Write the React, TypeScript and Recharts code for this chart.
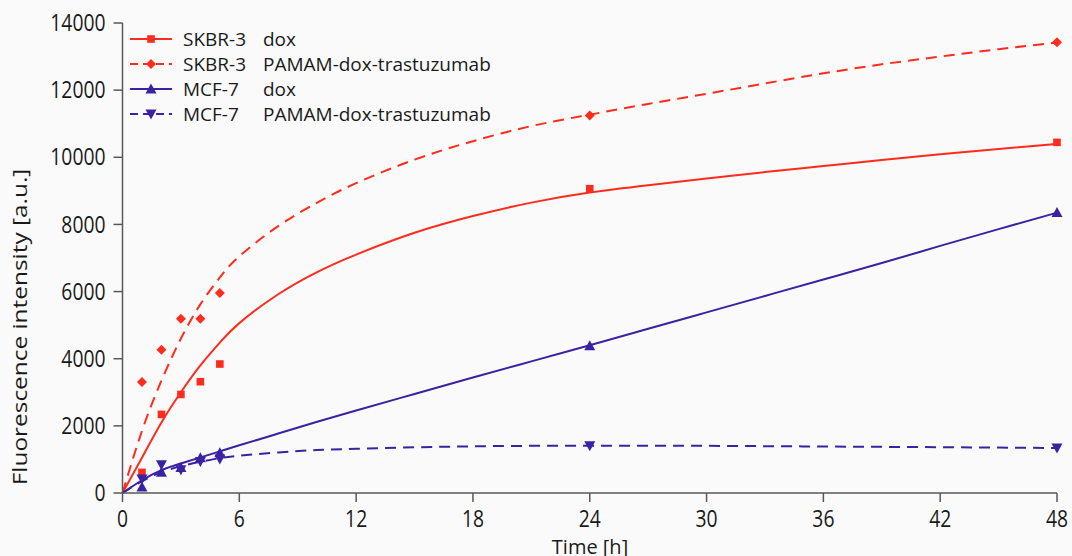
import { ComposedChart, Line, Scatter, XAxis, YAxis } from "recharts";

const RED = "#ff2b1c";
const BLUE = "#3b22a3";

// measured points
const hours = [1, 2, 3, 4, 5, 24, 48];
const skbrDox = [614, 2341, 2937, 3315, 3842, 9065, 10444];
const skbrPamam = [3306, 4269, 5192, 5192, 5958, 11248, 13423];
const mcfDox = [180, 620, 760, 1050, 1200, 4388, 8359];
const mcfPamam = [417, 843, 694, 941, 1013, 1409, 1340];

// fitted curves
const fitHours = [0, 1, 2, 3, 4, 5, 6, 8, 10, 12, 15, 18, 21, 24, 27, 30, 33, 36, 39, 42, 45, 48];
const skbrDoxFit = [0, 1050, 2100, 3000, 3800, 4480, 5060, 5920, 6580, 7100, 7750, 8250, 8650, 8950, 9170, 9370, 9560, 9740, 9920, 10090, 10250, 10400];
const skbrPamamFit = [0, 1850, 3350, 4600, 5620, 6420, 7050, 7950, 8650, 9230, 9930, 10480, 10930, 11270, 11590, 11890, 12200, 12500, 12770, 13000, 13220, 13420];
const mcfDoxFit = [0, 380, 680, 880, 1060, 1240, 1420, 1770, 2120, 2460, 2950, 3440, 3920, 4400, 4890, 5380, 5870, 6360, 6850, 7360, 7860, 8350];
const mcfPamamFit = [0, 350, 620, 800, 930, 1040, 1110, 1210, 1280, 1315, 1360, 1390, 1405, 1410, 1410, 1405, 1395, 1385, 1375, 1365, 1352, 1340];

const xTicks = [0, 6, 12, 18, 24, 30, 36, 42, 48];
const yTicks = [0, 2000, 4000, 6000, 8000, 10000, 12000, 14000];

const toPts = (xs: number[], ys: number[]) => xs.map((x, i) => ({ x, y: ys[i] }));

type MarkerKind = "square" | "diamond" | "up" | "down";

function marker(kind: MarkerKind, cx: number, cy: number, color: string) {
  if (kind === "square")
    return <rect x={cx - 3.8} y={cy - 3.8} width={7.6} height={7.6} fill={color} />;
  if (kind === "diamond")
    return <path d={`M${cx},${cy - 5} L${cx + 5},${cy} L${cx},${cy + 5} L${cx - 5},${cy} Z`} fill={color} />;
  if (kind === "up")
    return <path d={`M${cx},${cy - 5.5} L${cx + 5.5},${cy + 4.5} L${cx - 5.5},${cy + 4.5} Z`} fill={color} />;
  return <path d={`M${cx},${cy + 5.5} L${cx + 5.5},${cy - 4.5} L${cx - 5.5},${cy - 4.5} Z`} fill={color} />;
}

const series = [
  { cell: "SKBR-3", drug: "dox", color: RED, dash: undefined, kind: "square" as MarkerKind, pts: toPts(hours, skbrDox), fit: toPts(fitHours, skbrDoxFit) },
  { cell: "SKBR-3", drug: "PAMAM-dox-trastuzumab", color: RED, dash: "11 7", kind: "diamond" as MarkerKind, pts: toPts(hours, skbrPamam), fit: toPts(fitHours, skbrPamamFit) },
  { cell: "MCF-7", drug: "dox", color: BLUE, dash: undefined, kind: "up" as MarkerKind, pts: toPts(hours, mcfDox), fit: toPts(fitHours, mcfDoxFit) },
  { cell: "MCF-7", drug: "PAMAM-dox-trastuzumab", color: BLUE, dash: "11 7", kind: "down" as MarkerKind, pts: toPts(hours, mcfPamam), fit: toPts(fitHours, mcfPamamFit) },
];

const FONT = "'Open Sans', sans-serif";

// narrow tick labels, like the figure's condensed font
function XTick({ x, y, payload }: any) {
  return (
    <text transform={`translate(${x},${y}) scale(0.84,1)`} textAnchor="middle" dy="0.71em" fontSize={23} fontFamily={FONT} fill="#1a1a1a">
      {payload.value}
    </text>
  );
}

function YTick({ x, y, payload }: any) {
  return (
    <text transform={`translate(${x},${y}) scale(0.84,1)`} textAnchor="end" dy="0.355em" fontSize={23} fontFamily={FONT} fill="#1a1a1a">
      {payload.value}
    </text>
  );
}

function LegendBox() {
  return (
    <div style={{ position: "absolute", left: 129, top: 26, fontFamily: FONT, fontSize: 19, color: "#1a1a1a" }}>
      {series.map((s) => (
        <div key={s.cell + s.drug} style={{ display: "flex", alignItems: "center", height: 25 }}>
          <svg width={44} height={20} style={{ marginRight: 10 }}>
            <line x1={1} y1={10} x2={43} y2={10} stroke={s.color} strokeWidth={2} strokeDasharray={s.dash ? "8 5" : undefined} />
            {marker(s.kind, 22, 10, s.color)}
          </svg>
          <span style={{ width: 80 }}>{s.cell}</span>
          <span>{s.drug}</span>
        </div>
      ))}
    </div>
  );
}

export default function App() {
  return (
    <div style={{ position: "absolute", left: 0, top: 0, width: 1072, height: 556, background: "#fafafa", overflow: "hidden" }}>
      <ComposedChart width={1072} height={556} margin={{ top: 23, right: 15, bottom: 23, left: 0 }}>
        <XAxis
          type="number"
          dataKey="x"
          domain={[0, 48]}
          ticks={xTicks}
          height={40}
          tickSize={9}
          tickMargin={9}
          stroke="#595959"
          strokeWidth={1.5}
          tick={<XTick />}
          allowDuplicatedCategory={false}
        />
        <YAxis
          type="number"
          domain={[0, 14000]}
          ticks={yTicks}
          width={122.5}
          tickSize={9}
          tickMargin={8}
          stroke="#595959"
          strokeWidth={1.5}
          tick={<YTick />}
        />
        {series.map((s) => (
          <Line
            key={"fit" + s.cell + s.drug}
            data={s.fit}
            dataKey="y"
            type="natural"
            stroke={s.color}
            strokeWidth={2}
            strokeDasharray={s.dash}
            dot={false}
            activeDot={false}
            isAnimationActive={false}
          />
        ))}
        {series.map((s) => (
          <Scatter
            key={"pts" + s.cell + s.drug}
            data={s.pts}
            dataKey="y"
            fill={s.color}
            isAnimationActive={false}
            shape={(p: any) => marker(s.kind, p.cx, p.cy, s.color)}
          />
        ))}
      </ComposedChart>
      <LegendBox />
      <div
        style={{
          position: "absolute",
          left: 19,
          top: 327,
          transform: "translate(-50%, -50%) rotate(-90deg) scale(1.22,1)",
          whiteSpace: "nowrap",
          fontFamily: FONT,
          fontSize: 20,
          color: "#1a1a1a",
        }}
      >
        Fluorescence intensity [a.u.]
      </div>
      <div
        style={{
          position: "absolute",
          left: 590,
          top: 533,
          transform: "translateX(-50%)",
          whiteSpace: "nowrap",
          fontFamily: FONT,
          fontSize: 20,
          color: "#1a1a1a",
        }}
      >
        Time [h]
      </div>
    </div>
  );
}
